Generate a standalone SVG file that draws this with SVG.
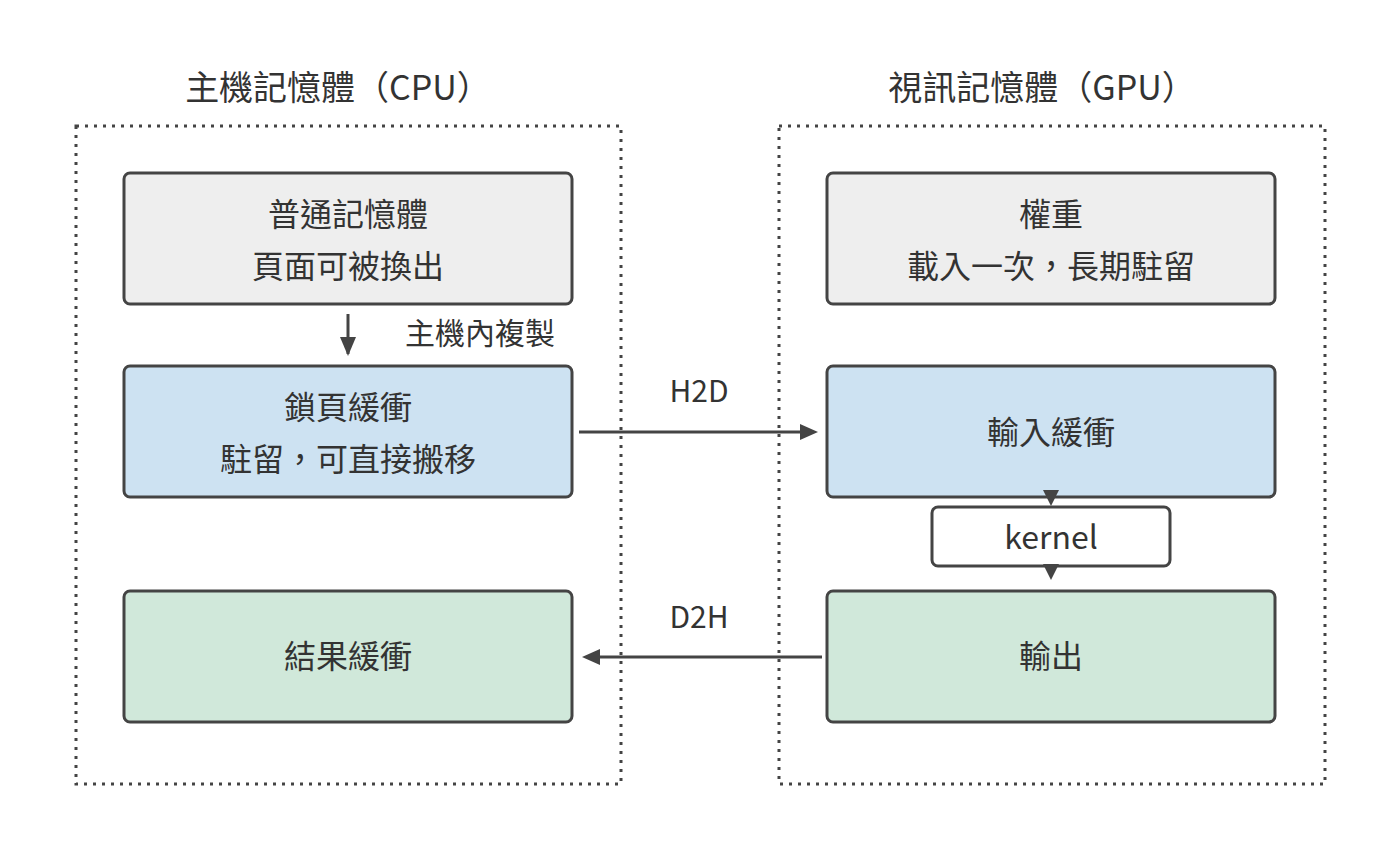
<svg xmlns="http://www.w3.org/2000/svg" width="1400" height="864" viewBox="0 0 1400 864">
<style>
text{font-family:"Noto Sans CJK TC","Noto Sans",sans-serif;fill:#333;text-anchor:middle}
.t{font-size:34px}
.n{font-size:32px}
.l{font-size:30px}
.box{stroke:#444;stroke-width:3}
.grp{fill:none;stroke:#444;stroke-width:3;stroke-dasharray:3 6}
.c{stroke:#444;stroke-width:3;fill:none}
</style>
<defs>
<marker id="a" viewBox="0 0 10 10" refX="9" refY="5" markerWidth="6" markerHeight="6" orient="auto" markerUnits="userSpaceOnUse" style="overflow:visible"><path d="M0,0L10,5L0,10z" fill="#444"/></marker>
<marker id="b" viewBox="0 0 10 10" refX="10" refY="5" markerWidth="7" markerHeight="7" orient="auto"><path d="M0,0L10,5L0,10z" fill="#444"/></marker>
</defs>
<rect x="0" y="0" width="1400" height="864" fill="#fff"/>
<g id="cpu"><rect class="grp" x="76" y="126" width="545" height="658"/><text class="t" x="338" y="100">主機記憶體（CPU）</text></g>
<g id="gpu"><rect class="grp" x="779" y="126" width="546" height="658"/><text class="t" x="1042" y="100">視訊記憶體（GPU）</text></g>
<g id="pageable"><rect class="box" x="124" y="173" width="448" height="131" rx="6" fill="#eeeeee"/><text class="n" x="348" y="226">普通記憶體</text><text class="n" x="348" y="278">頁面可被換出</text></g>
<g id="pinned"><rect class="box" x="124" y="366" width="448" height="131" rx="6" fill="#cde2f2"/><text class="n" x="348" y="419">鎖頁緩衝</text><text class="n" x="348" y="471">駐留，可直接搬移</text></g>
<g id="result"><rect class="box" x="124" y="591" width="448" height="131" rx="6" fill="#d0e8da"/><text class="n" x="348" y="668">結果緩衝</text></g>
<g id="weights"><rect class="box" x="827" y="173" width="448" height="131" rx="6" fill="#eeeeee"/><text class="n" x="1051" y="226">權重</text><text class="n" x="1051" y="278">載入一次，長期駐留</text></g>
<g id="input"><rect class="box" x="827" y="366" width="448" height="131" rx="6" fill="#cde2f2"/><text class="n" x="1051" y="444">輸入緩衝</text></g>
<g id="output"><rect class="box" x="827" y="591" width="448" height="131" rx="6" fill="#d0e8da"/><text class="n" x="1051" y="668">輸出</text></g>
<g id="kernel"><rect class="box" x="932" y="507" width="238" height="59" rx="6" fill="#fff"/><text class="n" x="1051" y="549">kernel</text></g>
<g id="connectors">
<line class="c" x1="348" y1="314" x2="348" y2="354"/><path d="M340,337L356,337L348,356z" fill="#444"/>
<text class="l" x="480" y="344">主機內複製</text>
<line class="c" x1="579" y1="432" x2="805" y2="432"/><path d="M800,424L818,432L800,440z" fill="#444"/>
<text class="l" x="699" y="402">H2D</text>
<line class="c" x1="822" y1="657" x2="598" y2="657"/><path d="M600,649L582,657L600,665z" fill="#444"/>
<text class="l" x="699" y="628">D2H</text>
<path d="M1043,490L1059,490L1051,506z" fill="#444"/>
<path d="M1043,564L1059,564L1051,580z" fill="#444"/>
</g>
</svg>
